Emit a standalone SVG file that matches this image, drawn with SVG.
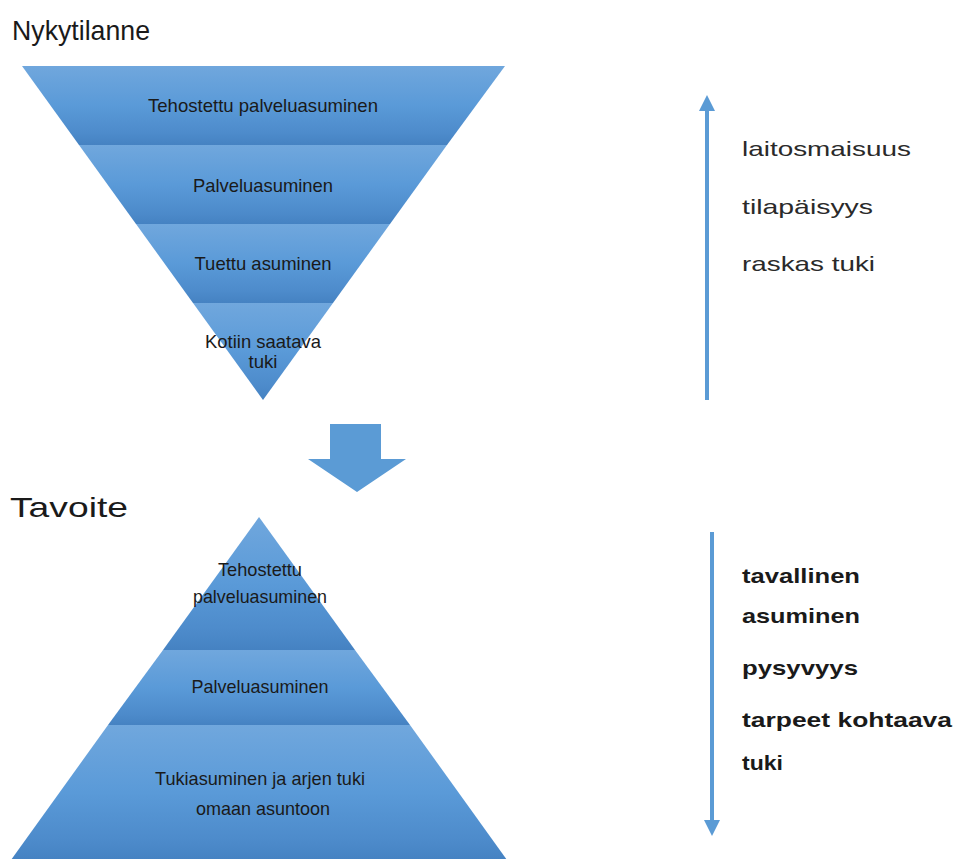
<svg xmlns="http://www.w3.org/2000/svg" width="955" height="859" viewBox="0 0 955 859">
<defs>
<linearGradient id="band" x1="0" y1="0" x2="0" y2="1">
<stop offset="0" stop-color="#70a7dd"/>
<stop offset="0.5" stop-color="#5a9ad8"/>
<stop offset="0.85" stop-color="#4d8bcb"/>
<stop offset="1" stop-color="#4582c2"/>
</linearGradient>
<marker id="ah" viewBox="0 0 10 10" refX="5" refY="5" markerWidth="4" markerHeight="4" orient="auto-start-reverse" markerUnits="strokeWidth">
<path d="M0,0 L10,5 L0,10 z" fill="#5b9bd5"/>
</marker>
</defs>
<style>
.band{fill:url(#band);}
.t{font-family:"Liberation Sans",Arial,sans-serif;fill:#1a1a1a;text-anchor:middle;font-size:19px;}
.title{font-family:"Liberation Sans",Arial,sans-serif;fill:#1a1a1a;font-size:28px;}
.side{font-family:"Liberation Sans",Arial,sans-serif;fill:#2a2a2a;font-size:21px;}
.sideb{font-family:"Liberation Sans",Arial,sans-serif;fill:#1a1a1a;font-size:21px;font-weight:bold;}
.conn{stroke:#5b9bd5;stroke-width:4;fill:none;}
</style>
<rect width="955" height="859" fill="#ffffff"/>

<text class="title" x="12" y="40" textLength="138" lengthAdjust="spacingAndGlyphs">Nykytilanne</text>
<text class="title" x="10" y="517" textLength="118" lengthAdjust="spacingAndGlyphs">Tavoite</text>

<g id="top-band-1">
<polygon class="band" points="22,66 505,66 447,145 79,145"/>
<text class="t" x="263" y="112" textLength="230" lengthAdjust="spacingAndGlyphs">Tehostettu palveluasuminen</text>
</g>
<g id="top-band-2">
<polygon class="band" points="79,145 447,145 390,224 136,224"/>
<text class="t" x="263" y="192" textLength="140" lengthAdjust="spacingAndGlyphs">Palveluasuminen</text>
</g>
<g id="top-band-3">
<polygon class="band" points="136,224 390,224 333,303 193,303"/>
<text class="t" x="263" y="270" textLength="137" lengthAdjust="spacingAndGlyphs">Tuettu asuminen</text>
</g>
<g id="top-band-4">
<polygon class="band" points="193,303 333,303 263,400"/>
<text class="t" x="263" y="348" textLength="116" lengthAdjust="spacingAndGlyphs">Kotiin saatava</text>
<text class="t" x="263" y="368" textLength="29" lengthAdjust="spacingAndGlyphs">tuki</text>
</g>

<g id="bottom-band-1">
<polygon class="band" points="259,517 355,650 163,650"/>
<text class="t" x="260" y="576" textLength="84" lengthAdjust="spacingAndGlyphs">Tehostettu</text>
<text class="t" x="260" y="603" textLength="134" lengthAdjust="spacingAndGlyphs">palveluasuminen</text>
</g>
<g id="bottom-band-2">
<polygon class="band" points="163,650 355,650 410,725 108,725"/>
<text class="t" x="260" y="693" textLength="137" lengthAdjust="spacingAndGlyphs">Palveluasuminen</text>
</g>
<g id="bottom-band-3">
<polygon class="band" points="108,725 410,725 507,860 11,860"/>
<text class="t" x="260" y="785" textLength="210" lengthAdjust="spacingAndGlyphs">Tukiasuminen ja arjen tuki</text>
<text class="t" x="263" y="815" textLength="134" lengthAdjust="spacingAndGlyphs">omaan asuntoon</text>
</g>

<g id="labels-top">
<text class="side" x="742" y="156" textLength="169" lengthAdjust="spacingAndGlyphs">laitosmaisuus</text>
<text class="side" x="742" y="214" textLength="131" lengthAdjust="spacingAndGlyphs">tilapäisyys</text>
<text class="side" x="742" y="271" textLength="133" lengthAdjust="spacingAndGlyphs">raskas tuki</text>
</g>
<g id="labels-bottom">
<text class="sideb" x="742" y="583" textLength="118" lengthAdjust="spacingAndGlyphs">tavallinen</text>
<text class="sideb" x="742" y="623" textLength="118" lengthAdjust="spacingAndGlyphs">asuminen</text>
<text class="sideb" x="742" y="675" textLength="116" lengthAdjust="spacingAndGlyphs">pysyvyys</text>
<text class="sideb" x="742" y="727" textLength="210" lengthAdjust="spacingAndGlyphs">tarpeet kohtaava</text>
<text class="sideb" x="742" y="770" textLength="41" lengthAdjust="spacingAndGlyphs">tuki</text>
</g>

<g id="connectors">
<polygon points="330,424 381,424 381,459 406,459 357,492 308,459 330,459" fill="#5b9bd5"/>
<line class="conn" x1="707" y1="400" x2="707" y2="103" marker-end="url(#ah)"/>
<line class="conn" x1="712" y1="532" x2="712" y2="828" marker-end="url(#ah)"/>
</g>
</svg>
